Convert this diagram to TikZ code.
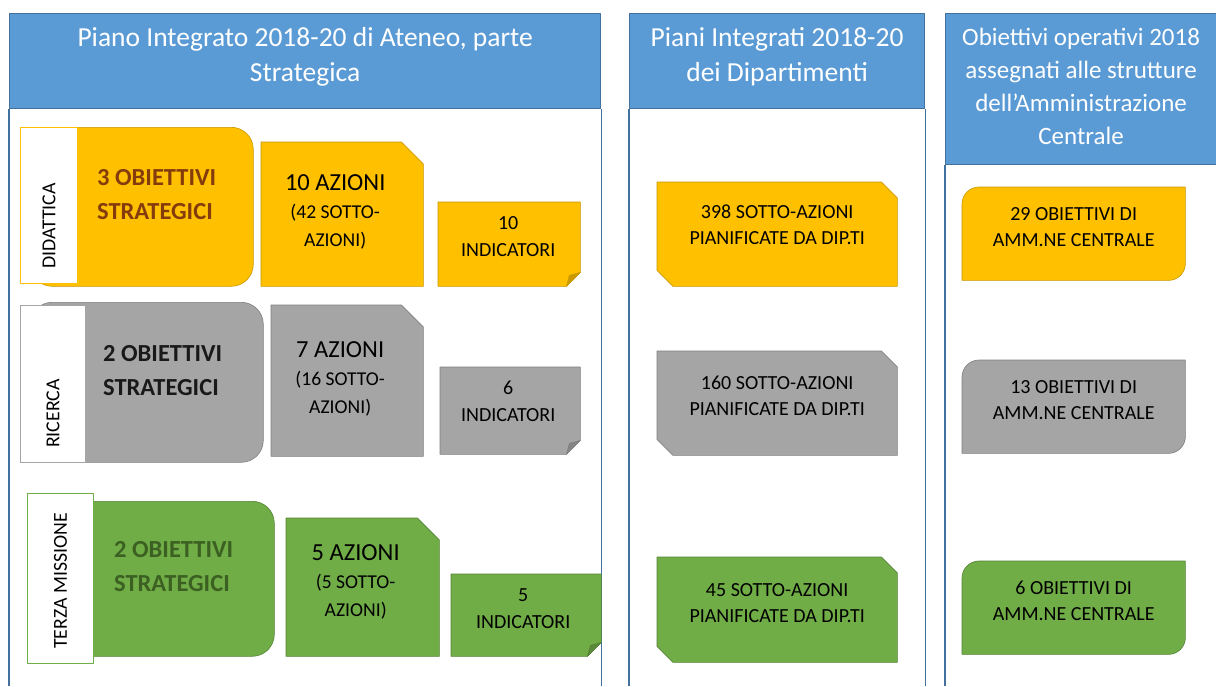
\documentclass[tikz,border=0pt]{standalone}
\usepackage{fontspec}
\setmainfont{Carlito}
\usetikzlibrary{calc}

\definecolor{hdrblue}{HTML}{5B9BD5}
\definecolor{hdrline}{HTML}{41719C}
\definecolor{ylw}{HTML}{FFC000}
\definecolor{ylwline}{HTML}{C99700}
\definecolor{ylwfold}{HTML}{CC9A00}
\definecolor{gry}{HTML}{A5A5A5}
\definecolor{gryline}{HTML}{7F7F7F}
\definecolor{gryfold}{HTML}{858585}
\definecolor{grn}{HTML}{70AD47}
\definecolor{grnline}{HTML}{548235}
\definecolor{grnfold}{HTML}{5A8A39}
\definecolor{brownobj}{HTML}{843C0C}
\definecolor{greenobj}{HTML}{3B6022}

\newcommand{\subsz}{\fontsize{19.6}{26}\selectfont}
% note with folded lower right corner
\newcommand{\foldnote}[4]{%
  \filldraw[fill=#2,draw=#3,line width=0.6pt] (#1.north west) -- (#1.north east) -- ([yshift=14pt]#1.south east) -- ([xshift=-14pt]#1.south east) -- (#1.south west) -- cycle;
  \filldraw[fill=#4,draw=#3,line width=0.6pt] ([yshift=14pt]#1.south east) -- ([xshift=-14pt]#1.south east) -- ([xshift=-11pt,yshift=11pt]#1.south east) -- cycle;}
% box with two rounded corners (top left, bottom right)
\newcommand{\rounddiag}[3]{%
  \filldraw[fill=#2,draw=#3,line width=0.6pt] (#1.south west) -- ([yshift=-17pt]#1.north west) arc[start angle=180,end angle=90,radius=17pt] -- (#1.north east) -- ([yshift=17pt]#1.south east) arc[start angle=0,end angle=-90,radius=17pt] -- cycle;}
% box with the top right corner cut off
\newcommand{\snipne}[4]{%
  \filldraw[fill=#2,draw=#3,line width=0.6pt] (#1.south west) -- (#1.north west) -- ([xshift=-#4]#1.north east) -- ([yshift=-#4]#1.north east) -- (#1.south east) -- cycle;}
% box with top right and bottom left corners cut off
\newcommand{\snipdiag}[4]{%
  \filldraw[fill=#2,draw=#3,line width=0.6pt] (#1.north west) -- ([xshift=-#4]#1.north east) -- ([yshift=-#4]#1.north east) -- (#1.south east) -- ([xshift=#4]#1.south west) -- ([yshift=#4]#1.south west) -- cycle;}

\begin{document}
\begin{tikzpicture}[x=1pt,y=-1pt,line join=round,
  panel/.style={draw=hdrline,line width=1.2pt},
  hdr/.style={rectangle,draw=hdrline,line width=1.2pt,fill=hdrblue,text=white,anchor=north west,inner sep=0pt,align=center,font=\fontsize{27.5}{35}\selectfont},
  lbl/.style={rectangle,fill=white,line width=1pt,anchor=north west,inner sep=0pt},
  lbltxt/.style={rotate=90,anchor=west,inner sep=0pt,font=\fontsize{19.8}{22}\selectfont},
  obj/.style={rectangle,rounded corners=22pt,line width=0.6pt,anchor=north west,inner sep=0pt},
  objtxt/.style={anchor=west,inner sep=0pt,align=left,font=\bfseries\fontsize{24.5}{34}\selectfont},
  box/.style={rectangle,anchor=north west,inner sep=0pt},
  aztxt/.style={inner sep=0pt,align=center,font=\fontsize{24.5}{28}\selectfont},
  indtxt/.style={inner sep=0pt,align=center,font=\fontsize{20}{27}\selectfont},
  boxtxt/.style={inner sep=0pt,align=center,font=\fontsize{20}{26}\selectfont}]
\useasboundingbox (0,0) rectangle (1216,686);
\coordinate (bot) at (0,686);

% panels
\node[hdr,minimum width=591pt,minimum height=95pt,text depth=13pt] (hdr-pi) at (9,13) {Piano Integrato 2018-20 di Ateneo, parte\\Strategica};
\node[hdr,minimum width=295pt,minimum height=95pt,text depth=13pt] (hdr-dip) at (629,13) {Piani Integrati 2018-20\\dei Dipartimenti};
\node[hdr,minimum width=271pt,minimum height=151pt,text depth=6pt,font=\fontsize{25}{33}\selectfont] (hdr-amm) at (945,13) {Obiettivi operativi 2018\\assegnati alle strutture\\dell’Amministrazione\\Centrale};
\draw[panel] (hdr-pi.south west) -- (hdr-pi.south west |- bot);
\draw[panel] (hdr-pi.south east) -- (hdr-pi.south east |- bot);
\draw[panel] (hdr-dip.south west) -- (hdr-dip.south west |- bot);
\draw[panel] (hdr-dip.south east) -- (hdr-dip.south east |- bot);
\draw[panel] (hdr-amm.south west) -- (hdr-amm.south west |- bot);

% didattica
\node[obj,fill=ylw,draw=ylwline,minimum width=223pt,minimum height=159pt] (did-obj) at (30,127) {};
\node[lbl,draw=ylw,minimum width=57pt,minimum height=156pt] (did-lbl) at (20,127) {};
\node[lbltxt] (did-lbl-t) at ($(did-lbl.south)+(0,-15)$) {DIDATTICA};
\node[objtxt,text=brownobj] (did-obj-t) at ($(did-lbl.east |- did-obj.center)+(19,-12)$) {3 OBIETTIVI\\STRATEGICI};
\node[box,minimum width=162pt,minimum height=144pt] (did-az) at (261,142) {};
\snipne{did-az}{ylw}{ylwline}{22pt}
\node[aztxt] (did-az-t) at ($(did-az.center)+(-7,-2)$) {10 AZIONI\\{\subsz(42 SOTTO-}\\{\subsz AZIONI)}};
\node[box,minimum width=142pt,minimum height=84pt] (did-ind) at (438,202) {};
\foldnote{did-ind}{ylw}{ylwline}{ylwfold}
\node[indtxt] (did-ind-t) at ($(did-ind.center)+(-1,-7.5)$) {10\\INDICATORI};

% ricerca
\node[obj,fill=gry,draw=gryline,minimum width=233pt,minimum height=160pt] (ric-obj) at (30,302) {};
\node[lbl,draw=gry,minimum width=65pt,minimum height=157pt] (ric-lbl) at (20,305) {};
\node[lbltxt] (ric-lbl-t) at ($(ric-lbl.south)+(0,-15)$) {RICERCA};
\node[objtxt,text=black!90] (ric-obj-t) at ($(ric-lbl.east |- ric-obj.center)+(17,-11.5)$) {2 OBIETTIVI\\STRATEGICI};
\node[box,minimum width=152pt,minimum height=151pt] (ric-az) at (271,305) {};
\snipne{ric-az}{gry}{gryline}{22pt}
\node[aztxt] (ric-az-t) at ($(ric-az.center)+(-7,-2)$) {7 AZIONI\\{\subsz(16 SOTTO-}\\{\subsz AZIONI)}};
\node[box,minimum width=140pt,minimum height=87pt] (ric-ind) at (440,367) {};
\foldnote{ric-ind}{gry}{gryline}{gryfold}
\node[indtxt] (ric-ind-t) at ($(ric-ind.center)+(-2,-9)$) {6\\INDICATORI};

% terza missione
\node[obj,fill=grn,draw=grnline,minimum width=234pt,minimum height=155pt] (tm-obj) at (40,501) {};
\node[lbl,draw=grn,minimum width=66pt,minimum height=170pt] (tm-lbl) at (27,493) {};
\node[lbltxt] (tm-lbl-t) at ($(tm-lbl.south)+(0,-15)$) {TERZA MISSIONE};
\node[objtxt,text=greenobj] (tm-obj-t) at ($(tm-lbl.east |- tm-obj.center)+(20,-12)$) {2 OBIETTIVI\\STRATEGICI};
\node[box,minimum width=153pt,minimum height=138pt] (tm-az) at (286,518) {};
\snipne{tm-az}{grn}{grnline}{22pt}
\node[aztxt] (tm-az-t) at ($(tm-az.center)+(-7,-5)$) {5 AZIONI\\{\subsz(5 SOTTO-}\\{\subsz AZIONI)}};
\node[box,minimum width=150pt,minimum height=82pt] (tm-ind) at (451,574) {};
\foldnote{tm-ind}{grn}{grnline}{grnfold}
\node[indtxt] (tm-ind-t) at ($(tm-ind.center)+(-3,-6.5)$) {5\\INDICATORI};

% dipartimenti
\node[box,minimum width=240pt,minimum height=104pt] (dip-did) at (657,182) {};
\snipdiag{dip-did}{ylw}{ylwline}{16pt}
\node[boxtxt] (dip-did-t) at ($(dip-did.center)+(0,-9)$) {398 SOTTO-AZIONI\\PIANIFICATE DA DIP.TI};
\node[box,minimum width=240pt,minimum height=104pt] (dip-ric) at (657,351) {};
\snipdiag{dip-ric}{gry}{gryline}{16pt}
\node[boxtxt] (dip-ric-t) at ($(dip-ric.center)+(0,-7)$) {160 SOTTO-AZIONI\\PIANIFICATE DA DIP.TI};
\node[box,minimum width=240pt,minimum height=105pt] (dip-tm) at (657,557) {};
\snipdiag{dip-tm}{grn}{grnline}{16pt}
\node[boxtxt] (dip-tm-t) at ($(dip-tm.center)+(0,-6.5)$) {45 SOTTO-AZIONI\\PIANIFICATE DA DIP.TI};

% amministrazione centrale
\node[box,minimum width=223pt,minimum height=93pt] (amm-did) at (962,187) {};
\rounddiag{amm-did}{ylw}{ylwline}
\node[boxtxt] (amm-did-t) at ($(amm-did.center)+(0,-6.5)$) {29 OBIETTIVI DI\\AMM.NE CENTRALE};
\node[box,minimum width=223pt,minimum height=93pt] (amm-ric) at (962,360) {};
\rounddiag{amm-ric}{gry}{gryline}
\node[boxtxt] (amm-ric-t) at ($(amm-ric.center)+(0,-6.5)$) {13 OBIETTIVI DI\\AMM.NE CENTRALE};
\node[box,minimum width=223pt,minimum height=93pt] (amm-tm) at (962,561) {};
\rounddiag{amm-tm}{grn}{grnline}
\node[boxtxt] (amm-tm-t) at ($(amm-tm.center)+(0,-6.5)$) {6 OBIETTIVI DI\\AMM.NE CENTRALE};
\end{tikzpicture}
\end{document}
